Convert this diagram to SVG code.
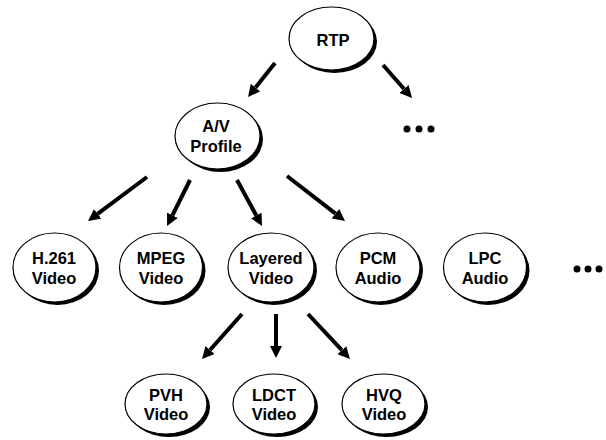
<svg xmlns="http://www.w3.org/2000/svg" width="606" height="440" viewBox="0 0 606 440">
  <style>
    .shadow { fill: #000; }
    .body { fill: #fff; stroke: #000; stroke-width: 1.2; }
    .label { font-family: "Liberation Sans", Arial, sans-serif; font-weight: bold; font-size: 16.5px; fill: #000; text-anchor: middle; }
    .edge { stroke: #000; stroke-width: 4; fill: none; marker-end: url(#head); }
    .dot { fill: #000; }
  </style>
  <defs>
    <marker id="head" viewBox="0 0 12 12" refX="0" refY="6" markerWidth="12" markerHeight="12" markerUnits="userSpaceOnUse" orient="auto">
      <path d="M0,0 L12,6 L0,12 z" fill="#000"/>
    </marker>
  </defs>

  <rect width="606" height="440" fill="#fff"/>

  <!-- connectors (lines end at the arrowhead base) -->
  <g id="connectors">
    <line class="edge" x1="275" y1="63" x2="255.5" y2="87.6"/>
    <line class="edge" x1="383" y1="65" x2="404.1" y2="89"/>
    <line class="edge" x1="147" y1="177" x2="97.6" y2="213.8"/>
    <line class="edge" x1="190" y1="180" x2="172.4" y2="215.3"/>
    <line class="edge" x1="237" y1="180" x2="256.3" y2="215.5"/>
    <line class="edge" x1="287" y1="176" x2="335.5" y2="213.6"/>
    <line class="edge" x1="242" y1="314" x2="210" y2="350"/>
    <line class="edge" x1="276" y1="314" x2="276" y2="346"/>
    <line class="edge" x1="308" y1="314" x2="341.8" y2="350.2"/>
  </g>

  <!-- ellipsis markers -->
  <g id="more-profiles">
    <circle class="dot" cx="407" cy="129" r="3.5"/>
    <circle class="dot" cx="419" cy="129" r="3.5"/>
    <circle class="dot" cx="431" cy="129" r="3.5"/>
  </g>
  <g id="more-formats">
    <circle class="dot" cx="577" cy="269" r="3.5"/>
    <circle class="dot" cx="588" cy="269" r="3.5"/>
    <circle class="dot" cx="599" cy="269" r="3.5"/>
  </g>

  <!-- nodes: shadow ellipse offset down-right, white ellipse on top -->
  <g id="rtp">
    <ellipse class="shadow" cx="334.5" cy="41.5" rx="42.5" ry="31.5"/>
    <ellipse class="body" cx="331.5" cy="38.5" rx="42.5" ry="31.5"/>
    <text class="label" x="333" y="46">RTP</text>
  </g>

  <g id="av-profile">
    <ellipse class="shadow" cx="220.5" cy="139" rx="42.5" ry="33"/>
    <ellipse class="body" cx="217.5" cy="136" rx="42.5" ry="33"/>
    <text class="label" x="216" y="132">A/V</text>
    <text class="label" x="216" y="152">Profile</text>
  </g>

  <g id="h261-video">
    <ellipse class="shadow" cx="57.5" cy="270.5" rx="41.5" ry="34.5"/>
    <ellipse class="body" cx="54.5" cy="267.5" rx="41.5" ry="34.5"/>
    <text class="label" x="54" y="264">H.261</text>
    <text class="label" x="54" y="284">Video</text>
  </g>

  <g id="mpeg-video">
    <ellipse class="shadow" cx="164" cy="270.5" rx="41.5" ry="34.5"/>
    <ellipse class="body" cx="161" cy="267.5" rx="41.5" ry="34.5"/>
    <text class="label" x="161" y="264">MPEG</text>
    <text class="label" x="161" y="284">Video</text>
  </g>

  <g id="layered-video">
    <ellipse class="shadow" cx="274" cy="270.5" rx="43" ry="34.5"/>
    <ellipse class="body" cx="271" cy="267.5" rx="43" ry="34.5"/>
    <text class="label" x="271" y="264">Layered</text>
    <text class="label" x="271" y="284">Video</text>
  </g>

  <g id="pcm-audio">
    <ellipse class="shadow" cx="381" cy="270.5" rx="42" ry="34.5"/>
    <ellipse class="body" cx="378" cy="267.5" rx="42" ry="34.5"/>
    <text class="label" x="378" y="264">PCM</text>
    <text class="label" x="378" y="284">Audio</text>
  </g>

  <g id="lpc-audio">
    <ellipse class="shadow" cx="488" cy="270.5" rx="41.5" ry="34.5"/>
    <ellipse class="body" cx="485" cy="267.5" rx="41.5" ry="34.5"/>
    <text class="label" x="485" y="264">LPC</text>
    <text class="label" x="485" y="284">Audio</text>
  </g>

  <g id="pvh-video">
    <ellipse class="shadow" cx="169" cy="407" rx="41" ry="30"/>
    <ellipse class="body" cx="166" cy="404" rx="41" ry="30"/>
    <text class="label" x="166" y="401">PVH</text>
    <text class="label" x="166" y="420">Video</text>
  </g>

  <g id="ldct-video">
    <ellipse class="shadow" cx="277" cy="407" rx="41" ry="30"/>
    <ellipse class="body" cx="274" cy="404" rx="41" ry="30"/>
    <text class="label" x="274" y="401">LDCT</text>
    <text class="label" x="274" y="420">Video</text>
  </g>

  <g id="hvq-video">
    <ellipse class="shadow" cx="386.5" cy="407" rx="41.5" ry="30"/>
    <ellipse class="body" cx="383.5" cy="404" rx="41.5" ry="30"/>
    <text class="label" x="384" y="401">HVQ</text>
    <text class="label" x="384" y="420">Video</text>
  </g>
</svg>
